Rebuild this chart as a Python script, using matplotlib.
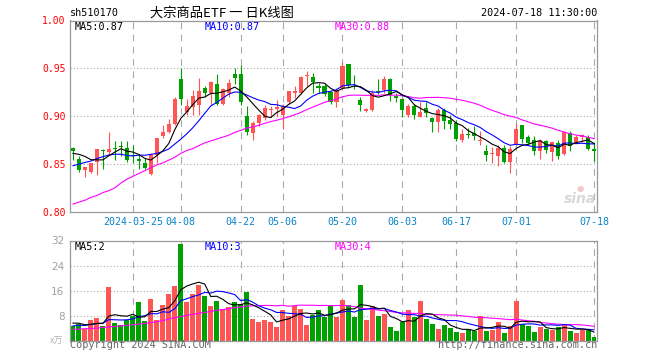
import matplotlib
matplotlib.use("Agg")
import matplotlib.pyplot as plt
import numpy as np
import pandas as pd

# ---------------- data ----------------
holidays = ["2024-04-04", "2024-04-05", "2024-05-01", "2024-05-02", "2024-05-03", "2024-06-10"]
days = pd.bdate_range("2024-03-11", "2024-07-18")
days = days[~days.isin(pd.to_datetime(holidays))]
dates = [d.strftime("%Y-%m-%d") for d in days]

tick_dates = ["2024-03-25", "2024-04-08", "2024-04-22", "2024-05-06", "2024-05-20",
              "2024-06-03", "2024-06-17", "2024-07-01", "2024-07-18"]
tick_labels = ["2024-03-25", "04-08", "04-22", "05-06", "05-20", "06-03", "06-17", "07-01", "07-18"]

opens = [0.867, 0.855, 0.844, 0.842, 0.852, 0.865, 0.862, 0.867, 0.869, 0.867,
         0.859, 0.855, 0.851, 0.839, 0.859, 0.879, 0.883, 0.892, 0.939, 0.904,
         0.910, 0.912, 0.929, 0.924, 0.934, 0.913, 0.924, 0.944, 0.944, 0.900,
         0.882, 0.893, 0.898, 0.906, 0.907, 0.901, 0.915, 0.924, 0.924, 0.942,
         0.941, 0.932, 0.931, 0.925, 0.915, 0.929, 0.954, 0.932, 0.917, 0.905,
         0.906, 0.926, 0.927, 0.939, 0.921, 0.918, 0.901, 0.911, 0.899, 0.908,
         0.898, 0.894, 0.906, 0.896, 0.893, 0.875, 0.881, 0.882, 0.874, 0.864,
         0.860, 0.858, 0.867, 0.852, 0.871, 0.891, 0.878, 0.875, 0.864, 0.874,
         0.862, 0.872, 0.860, 0.882, 0.872, 0.878, 0.878, 0.866]
highs = [0.868, 0.858, 0.847, 0.851, 0.866, 0.866, 0.883, 0.874, 0.874, 0.874,
         0.870, 0.859, 0.856, 0.861, 0.877, 0.891, 0.897, 0.920, 0.950, 0.918,
         0.927, 0.940, 0.932, 0.937, 0.944, 0.929, 0.939, 0.950, 0.953, 0.911,
         0.895, 0.902, 0.912, 0.911, 0.917, 0.913, 0.926, 0.931, 0.942, 0.947,
         0.945, 0.935, 0.934, 0.926, 0.929, 0.957, 0.954, 0.943, 0.920, 0.908,
         0.927, 0.939, 0.942, 0.940, 0.924, 0.919, 0.913, 0.913, 0.915, 0.915,
         0.899, 0.908, 0.908, 0.901, 0.896, 0.887, 0.888, 0.890, 0.884, 0.870,
         0.868, 0.870, 0.870, 0.869, 0.893, 0.891, 0.880, 0.879, 0.876, 0.875,
         0.873, 0.875, 0.884, 0.884, 0.880, 0.881, 0.880, 0.873]
lows = [0.854, 0.842, 0.836, 0.840, 0.838, 0.845, 0.859, 0.854, 0.858, 0.852,
        0.851, 0.845, 0.845, 0.838, 0.851, 0.877, 0.882, 0.891, 0.912, 0.901,
        0.901, 0.901, 0.920, 0.912, 0.912, 0.912, 0.920, 0.934, 0.912, 0.880,
        0.875, 0.890, 0.896, 0.899, 0.899, 0.887, 0.913, 0.919, 0.923, 0.931,
        0.924, 0.924, 0.921, 0.913, 0.909, 0.927, 0.929, 0.928, 0.905, 0.904,
        0.905, 0.923, 0.924, 0.916, 0.915, 0.899, 0.899, 0.897, 0.899, 0.899,
        0.883, 0.883, 0.886, 0.886, 0.874, 0.873, 0.877, 0.875, 0.870, 0.853,
        0.851, 0.848, 0.851, 0.840, 0.870, 0.872, 0.871, 0.859, 0.855, 0.861,
        0.853, 0.855, 0.859, 0.864, 0.872, 0.873, 0.865, 0.853]
closes = [0.863, 0.844, 0.847, 0.851, 0.866, 0.863, 0.866, 0.866, 0.868, 0.854,
          0.858, 0.853, 0.846, 0.859, 0.877, 0.883, 0.892, 0.918, 0.918, 0.911,
          0.921, 0.926, 0.924, 0.936, 0.913, 0.928, 0.935, 0.940, 0.915, 0.883,
          0.893, 0.901, 0.908, 0.907, 0.909, 0.911, 0.926, 0.926, 0.941, 0.943,
          0.936, 0.929, 0.923, 0.915, 0.926, 0.952, 0.933, 0.931, 0.912, 0.907,
          0.924, 0.925, 0.939, 0.922, 0.919, 0.906, 0.911, 0.901, 0.904, 0.903,
          0.894, 0.906, 0.895, 0.892, 0.876, 0.881, 0.880, 0.879, 0.875, 0.859,
          0.860, 0.867, 0.852, 0.866, 0.886, 0.876, 0.872, 0.864, 0.874, 0.865,
          0.873, 0.858, 0.883, 0.869, 0.878, 0.880, 0.866, 0.863]
# volume in 万 (10k shares)
volumes = [4.8, 5.3, 3.8, 6.7, 7.4, 4.9, 17.1, 5.7, 5.1, 6.7,
           7.9, 12.5, 6.4, 13.5, 6.7, 11.6, 15.0, 17.4, 31.0, 12.5,
           15.0, 17.7, 14.4, 11.3, 12.8, 10.2, 10.7, 12.3, 11.8, 15.7,
           7.0, 6.2, 6.7, 6.1, 4.3, 9.9, 8.1, 11.2, 10.2, 5.2,
           8.3, 9.8, 7.5, 11.0, 7.8, 13.1, 11.5, 7.8, 17.7, 6.7,
           11.2, 8.1, 8.6, 4.6, 3.2, 6.0, 9.9, 7.8, 12.8, 7.0,
           5.4, 3.8, 5.1, 4.1, 3.0, 2.6, 3.7, 3.2, 8.1, 3.2,
           3.5, 5.9, 2.7, 4.9, 12.8, 5.3, 4.9, 2.9, 4.5, 3.8,
           3.5, 4.5, 5.1, 3.2, 2.7, 3.5, 3.5, 1.3]

# history just before the visible window (for the short moving averages)
prior_closes = [0.826, 0.830, 0.836, 0.840, 0.843, 0.849, 0.858, 0.868, 0.867]
prior_volumes = [3.5, 4.0, 3.8, 4.2, 4.0, 5.5, 6.2, 6.0, 6.0]
ma30_price_head = [0.808, 0.810, 0.812, 0.815, 0.817, 0.820, 0.822, 0.825, 0.830, 0.834,
                   0.837, 0.840, 0.843, 0.846, 0.849, 0.851, 0.854, 0.857, 0.861, 0.864,
                   0.866, 0.869, 0.872, 0.874, 0.876, 0.878, 0.880, 0.883, 0.885]
ma30_vol_head = [3.7, 3.8, 3.9, 4.0, 4.1, 4.3, 4.5, 4.6, 4.8, 5.0,
                 5.2, 5.4, 5.6, 5.9, 6.1, 6.5, 7.0, 7.4, 7.8, 8.2,
                 8.5, 8.8, 9.1, 9.4, 9.8, 10.0, 10.3, 10.6, 10.8]

# ---------------- helpers ----------------
def moving_avg(values, prior, k):
    s = pd.Series(list(prior) + list(values))
    return s.rolling(k).mean().to_numpy()[len(prior):]

def ma30(values, head):
    full = pd.Series(values).rolling(30).mean().to_numpy()
    full[:len(head)] = head
    return full

n = len(dates)
x = np.arange(n)
o, h, l, c = map(np.array, (opens, highs, lows, closes))
v = np.array(volumes)

ma5 = moving_avg(closes, prior_closes, 5)
ma10 = moving_avg(closes, prior_closes, 10)
ma30p = ma30(closes, ma30_price_head)
vma5 = moving_avg(volumes, prior_volumes, 5)
vma10 = moving_avg(volumes, prior_volumes, 10)
vma30 = ma30(volumes, ma30_vol_head)

RED = "#ff5555"
GREEN = "#00a000"
MA5C, MA10C, MA30C = "#000000", "#0000ff", "#ff00ff"
GRID = "#aaaaaa"
SPINE = "#999999"
MONO = "DejaVu Sans Mono"
CJK = ["Noto Sans CJK SC", "DejaVu Sans"]

W, H = 660, 360
fig = plt.figure(figsize=(W / 100, H / 100), dpi=100)
fig.patch.set_facecolor("white")

def frac(left, top, right, bottom):
    return [left / W, 1 - bottom / H, (right - left) / W, (bottom - top) / H]

ax = fig.add_axes(frac(70, 20.5, 597, 211.7))
axv = fig.add_axes(frac(70, 240.5, 597, 341))

up = c >= o
cols = np.where(up, RED, GREEN)
tick_pos = [dates.index(d) for d in tick_dates]

# ---- price panel ----
for yv in (0.85, 0.90, 0.95):
    ax.axhline(yv, color=GRID, lw=0.8, ls=(0, (1, 2)), zorder=0)
for tp in tick_pos:
    ax.axvline(tp, color=GRID, lw=0.8, ls=(0, (6, 5)), zorder=0)
    axv.axvline(tp, color=GRID, lw=0.8, ls=(0, (6, 5)), zorder=0)

ax.vlines(x, l, h, colors=cols, lw=0.8, zorder=2)
body_bottom = np.minimum(o, c)
body_h = np.maximum(np.abs(c - o), 0.0009)
ax.bar(x, body_h, bottom=body_bottom, width=0.68, color=cols, lw=0, zorder=3)

ax.plot(x, ma30p, color=MA30C, lw=0.8, zorder=4)
ax.plot(x, ma10, color=MA10C, lw=0.8, zorder=4)
ax.plot(x, ma5, color=MA5C, lw=0.8, zorder=5)

ax.set_xlim(-0.5, n - 0.5)
ax.set_ylim(0.80, 1.00)
yt = [0.80, 0.85, 0.90, 0.95, 1.00]
ax.set_yticks(yt)
ax.set_yticklabels([f"{t:.2f}" for t in yt], color="#ff0000", fontfamily=MONO, fontsize=7)
ax.set_xticks(tick_pos)
ax.set_xticklabels(tick_labels, color="#0a84c8", fontfamily=MONO, fontsize=7.2)
ax.tick_params(axis="y", length=0, pad=3)
ax.tick_params(axis="x", length=0, pad=4)
for sp in ax.spines.values():
    sp.set_color(SPINE)
    sp.set_linewidth(0.9)

# ---- volume panel ----
for yv in (8, 16, 24):
    axv.axhline(yv, color=GRID, lw=0.8, ls=(0, (1, 2)), zorder=0)
axv.bar(x, v, width=0.83, color=cols, lw=0, zorder=2)
axv.plot(x, vma30, color=MA30C, lw=0.8, zorder=4)
axv.plot(x, vma10, color=MA10C, lw=0.8, zorder=4)
axv.plot(x, vma5, color=MA5C, lw=0.8, zorder=5)
axv.set_xlim(-0.5, n - 0.5)
axv.set_ylim(0, 32)
axv.set_yticks([8, 16, 24, 32])
axv.set_yticklabels(["8", "16", "24", "32"], color="#a0a0a0", fontsize=7.5)
axv.set_xticks([])
axv.tick_params(axis="y", length=0, pad=4)
for sp in axv.spines.values():
    sp.set_color(SPINE)
    sp.set_linewidth(0.9)

# ---- texts ----
def ftext(px, py, s, **kw):
    fig.text(px / W, 1 - py / H, s, **kw)

ftext(70, 13.5, "sh510170", fontfamily=MONO, fontsize=7.3, color="black", va="center", ha="left")
ftext(222, 13, "大宗商品ETF 一 日K线图", fontfamily=CJK, fontsize=9.5, color="black", va="center", ha="center")
ftext(597, 13.5, "2024-07-18 11:30:00", fontfamily=MONO, fontsize=7.3, color="black", va="center", ha="right")

ftext(75, 26.5, f"MA5:{ma5[-1]:.2f}", fontfamily=MONO, fontsize=7.3, color=MA5C, va="center")
ftext(205, 26.5, f"MA10:{ma10[-1]:.2f}", fontfamily=MONO, fontsize=7.3, color=MA10C, va="center")
ftext(335, 26.5, f"MA30:{ma30p[-1]:.2f}", fontfamily=MONO, fontsize=7.3, color=MA30C, va="center")

ftext(75, 247, f"MA5:{int(vma5[-1])}", fontfamily=MONO, fontsize=7.3, color=MA5C, va="center")
ftext(205, 247, f"MA10:{int(vma10[-1])}", fontfamily=MONO, fontsize=7.3, color=MA10C, va="center")
ftext(335, 247, f"MA30:{int(vma30[-1])}", fontfamily=MONO, fontsize=7.3, color=MA30C, va="center")

ftext(63, 341, "x万", fontfamily=CJK, fontsize=6.5, color="#b0b0b0", va="center", ha="right")
ftext(70, 345.5, "Copyright 2024 SINA.COM", fontfamily=MONO, fontsize=7.3, color="#666666", va="center", ha="left")
ftext(597, 345.5, "http://finance.sina.com.cn", fontfamily=MONO, fontsize=7.3, color="#666666", va="center", ha="right")

# sina watermark
ftext(580, 199, "sina", fontsize=10, fontweight="bold", fontstyle="italic", color="#d8d8d8",
      va="center", ha="center")
ftext(580, 188, "●", fontsize=6, color="#f3c8c8", va="center", ha="center")

fig.savefig("out.png", dpi=100, facecolor="white")
